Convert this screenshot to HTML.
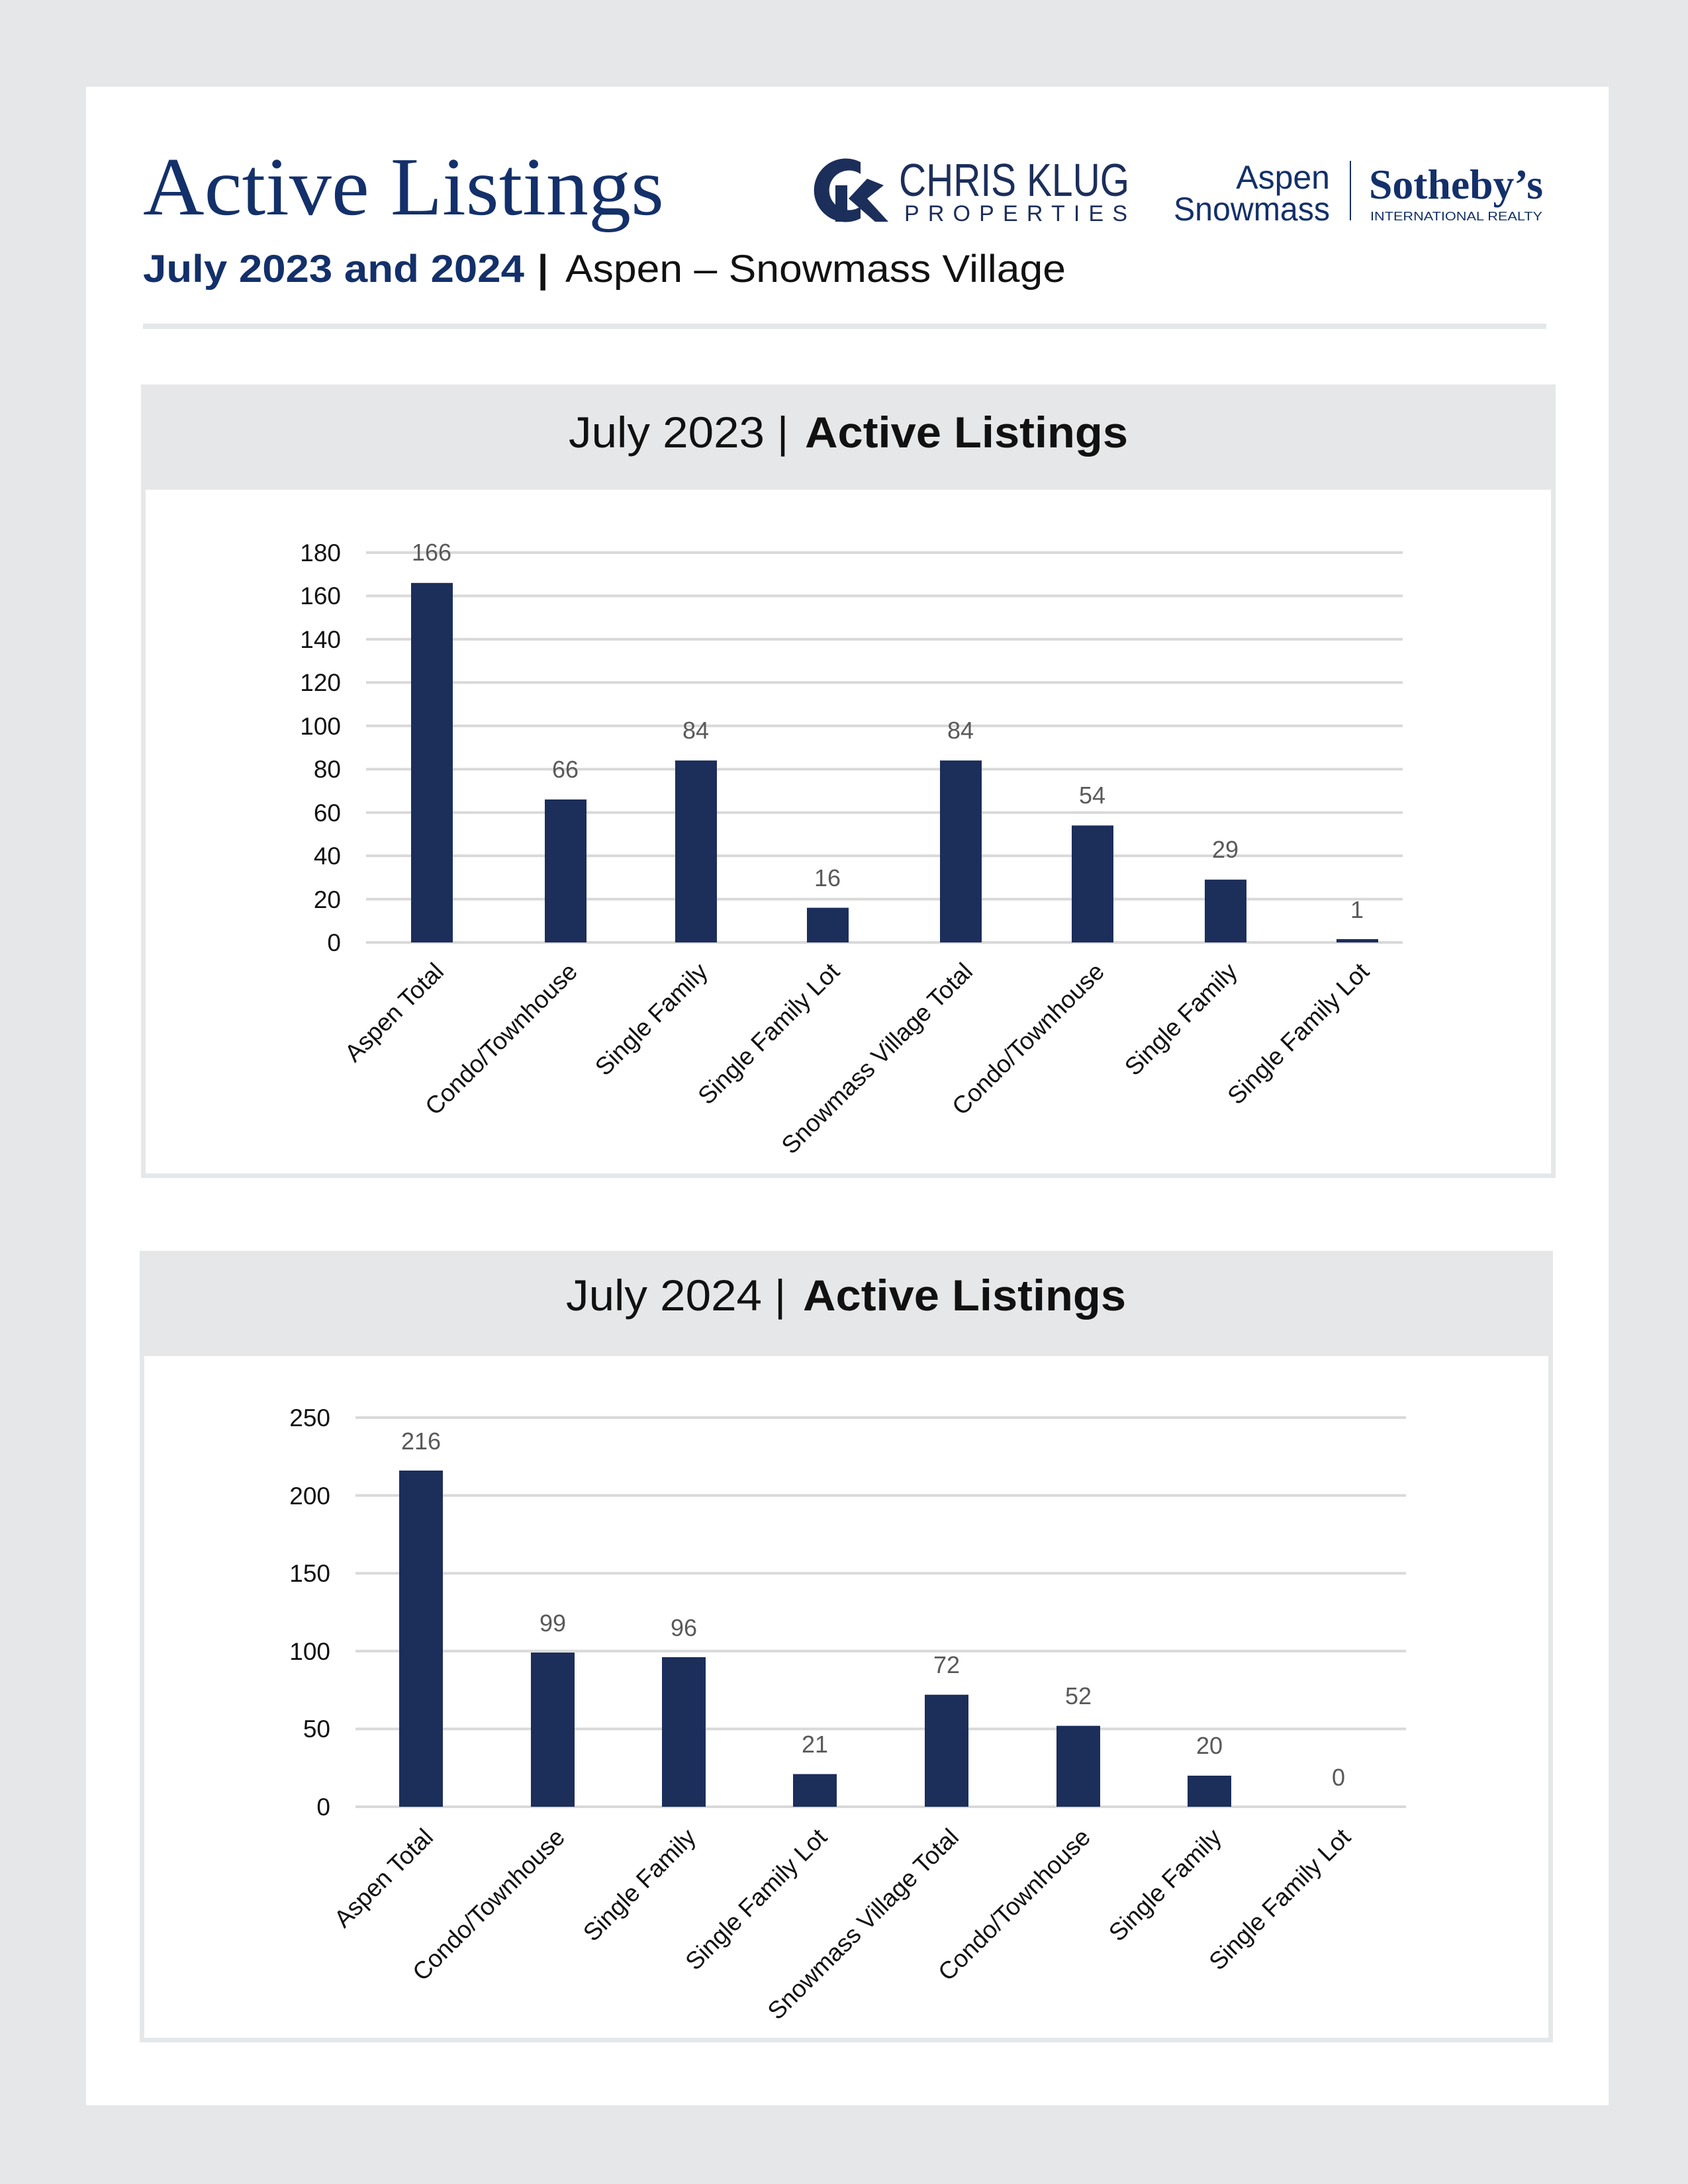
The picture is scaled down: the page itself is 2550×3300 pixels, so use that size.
<!DOCTYPE html>
<html><head><meta charset="utf-8"><style>html,body{margin:0;padding:0;background:#e6e7e9}svg{display:block}</style></head>
<body>
<svg width="2550" height="3300" viewBox="0 0 2550 3300" xmlns="http://www.w3.org/2000/svg" font-family="Liberation Sans, sans-serif">
<rect width="2550" height="3300" fill="#e6e7e9"/>
<rect x="130" y="131" width="2300" height="3050" fill="#fff"/>
<text x="216" y="324" font-family="Liberation Serif, serif" font-size="125" fill="#13306a" textLength="787" lengthAdjust="spacingAndGlyphs">Active Listings</text>
<text x="216" y="426" font-size="58" font-weight="bold" fill="#13306a" textLength="576" lengthAdjust="spacingAndGlyphs">July 2023 and 2024</text>
<text x="812" y="426" font-size="58" font-weight="bold" fill="#111">|</text>
<text x="854" y="426" font-size="58" fill="#111" textLength="756" lengthAdjust="spacingAndGlyphs">Aspen – Snowmass Village</text>
<rect x="216" y="489" width="2120" height="8" fill="#e6e7e9"/>
<g fill="#1c2e5a">
<path d="M1300 245 A48 48 0 1 0 1300 330 L1300 312 A30 30 0 1 1 1300 263 Z"/>
<rect x="1262" y="280" width="18" height="55"/>
<path d="M1282 300 L1310 270 L1335 280 L1310 300 L1342 335 L1322 335 Z"/>
</g>
<text x="1358" y="296" font-size="70" fill="#1c2e5a" textLength="348" lengthAdjust="spacingAndGlyphs">CHRIS KLUG</text>
<text x="1366" y="334" font-size="34" fill="#1c2e5a" textLength="337" lengthAdjust="spacing">PROPERTIES</text>
<text x="2009" y="285" font-size="50" fill="#13306a" text-anchor="end">Aspen</text>
<text x="2009" y="333" font-size="50" fill="#13306a" text-anchor="end" textLength="236" lengthAdjust="spacingAndGlyphs">Snowmass</text>
<rect x="2039" y="243" width="2" height="90" fill="#13306a"/>
<text x="2068" y="300" font-family="Liberation Serif, serif" font-weight="bold" font-size="64" fill="#13306a" textLength="263" lengthAdjust="spacingAndGlyphs">Sotheby’s</text>
<text x="2070" y="333" font-size="18" fill="#13306a" textLength="260" lengthAdjust="spacingAndGlyphs">INTERNATIONAL REALTY</text>

<rect x="216.5" y="584.5" width="2130" height="1192" fill="#fff" stroke="#e6e7e9" stroke-width="7"/>
<rect x="213" y="581" width="2137" height="159" fill="#e6e7e9"/>
<text x="859" y="676" font-size="66" fill="#111" textLength="296" lengthAdjust="spacingAndGlyphs">July 2023</text>
<text x="1174" y="676" font-size="66" fill="#111">|</text>
<text x="1216" y="676" font-size="66" font-weight="bold" fill="#111" textLength="488" lengthAdjust="spacingAndGlyphs">Active Listings</text>
<g stroke="#d9d9d9" stroke-width="4">
<line x1="553" x2="2119" y1="835" y2="835"/><line x1="553" x2="2119" y1="900.4" y2="900.4"/><line x1="553" x2="2119" y1="965.9" y2="965.9"/><line x1="553" x2="2119" y1="1031.3" y2="1031.3"/><line x1="553" x2="2119" y1="1096.8" y2="1096.8"/><line x1="553" x2="2119" y1="1162.2" y2="1162.2"/><line x1="553" x2="2119" y1="1227.7" y2="1227.7"/><line x1="553" x2="2119" y1="1293.1" y2="1293.1"/><line x1="553" x2="2119" y1="1358.6" y2="1358.6"/><line x1="553" x2="2119" y1="1424" y2="1424"/>
</g>
<g font-size="37" fill="#111" text-anchor="end">
<text x="515" y="848">180</text><text x="515" y="913">160</text><text x="515" y="979">140</text><text x="515" y="1044">120</text><text x="515" y="1110">100</text><text x="515" y="1175">80</text><text x="515" y="1241">60</text><text x="515" y="1306">40</text><text x="515" y="1372">20</text><text x="515" y="1437">0</text>
</g>
<g fill="#1c2e5a">
<rect x="621" y="880.8" width="63" height="543.2"/>
<rect x="823" y="1208" width="63" height="216"/>
<rect x="1020" y="1149.1" width="63" height="274.9"/>
<rect x="1219" y="1371.6" width="63" height="52.4"/>
<rect x="1420" y="1149.1" width="63" height="274.9"/>
<rect x="1619" y="1247.3" width="63" height="176.7"/>
<rect x="1820" y="1329.1" width="63" height="94.9"/>
<rect x="2019" y="1419" width="63" height="5"/>
</g>
<g font-size="36" fill="#595959" text-anchor="middle">
<text x="652" y="847">166</text><text x="854" y="1175">66</text><text x="1051" y="1116">84</text><text x="1250" y="1339">16</text><text x="1451" y="1116">84</text><text x="1650" y="1214">54</text><text x="1851" y="1296">29</text><text x="2050" y="1387">1</text>
</g>
<g font-size="37" fill="#111" text-anchor="end">
<text transform="translate(654,1452) rotate(-45)" dy="26">Aspen Total</text>
<text transform="translate(856,1452) rotate(-45)" dy="26">Condo/Townhouse</text>
<text transform="translate(1053,1452) rotate(-45)" dy="26">Single Family</text>
<text transform="translate(1252,1452) rotate(-45)" dy="26">Single Family Lot</text>
<text transform="translate(1453,1452) rotate(-45)" dy="26">Snowmass Village Total</text>
<text transform="translate(1652,1452) rotate(-45)" dy="26">Condo/Townhouse</text>
<text transform="translate(1853,1452) rotate(-45)" dy="26">Single Family</text>
<text transform="translate(2052,1452) rotate(-45)" dy="26">Single Family Lot</text>
</g>

<rect x="214.5" y="1893.5" width="2128" height="1189" fill="#fff" stroke="#e6e7e9" stroke-width="7"/>
<rect x="211" y="1890" width="2135" height="159" fill="#e6e7e9"/>
<text x="855" y="1980" font-size="66" fill="#111" textLength="296" lengthAdjust="spacingAndGlyphs">July 2024</text>
<text x="1170" y="1980" font-size="66" fill="#111">|</text>
<text x="1213" y="1980" font-size="66" font-weight="bold" fill="#111" textLength="488" lengthAdjust="spacingAndGlyphs">Active Listings</text>
<g stroke="#d9d9d9" stroke-width="4">
<line x1="537" x2="2124" y1="2142" y2="2142"/><line x1="537" x2="2124" y1="2259.6" y2="2259.6"/><line x1="537" x2="2124" y1="2377.2" y2="2377.2"/><line x1="537" x2="2124" y1="2494.8" y2="2494.8"/><line x1="537" x2="2124" y1="2612.4" y2="2612.4"/><line x1="537" x2="2124" y1="2730" y2="2730"/>
</g>
<g font-size="37" fill="#111" text-anchor="end">
<text x="499" y="2155">250</text><text x="499" y="2273">200</text><text x="499" y="2390">150</text><text x="499" y="2508">100</text><text x="499" y="2625">50</text><text x="499" y="2743">0</text>
</g>
<g fill="#1c2e5a">
<rect x="603" y="2222" width="66" height="508"/>
<rect x="802" y="2497" width="66" height="233"/>
<rect x="1000" y="2504" width="66" height="226"/>
<rect x="1198" y="2680.6" width="66" height="49.4"/>
<rect x="1397" y="2560.7" width="66" height="169.3"/>
<rect x="1596" y="2607.7" width="66" height="122.3"/>
<rect x="1794" y="2683" width="66" height="47"/>
</g>
<g font-size="36" fill="#595959" text-anchor="middle">
<text x="636" y="2190">216</text><text x="835" y="2465">99</text><text x="1033" y="2472">96</text><text x="1231" y="2648">21</text><text x="1430" y="2528">72</text><text x="1629" y="2575">52</text><text x="1827" y="2650">20</text><text x="2022" y="2698">0</text>
</g>
<g font-size="37" fill="#111" text-anchor="end">
<text transform="translate(638,2760) rotate(-45)" dy="26">Aspen Total</text>
<text transform="translate(837,2760) rotate(-45)" dy="26">Condo/Townhouse</text>
<text transform="translate(1035,2760) rotate(-45)" dy="26">Single Family</text>
<text transform="translate(1233,2760) rotate(-45)" dy="26">Single Family Lot</text>
<text transform="translate(1432,2760) rotate(-45)" dy="26">Snowmass Village Total</text>
<text transform="translate(1631,2760) rotate(-45)" dy="26">Condo/Townhouse</text>
<text transform="translate(1829,2760) rotate(-45)" dy="26">Single Family</text>
<text transform="translate(2024,2760) rotate(-45)" dy="26">Single Family Lot</text>
</g>
</svg>
</body></html>
